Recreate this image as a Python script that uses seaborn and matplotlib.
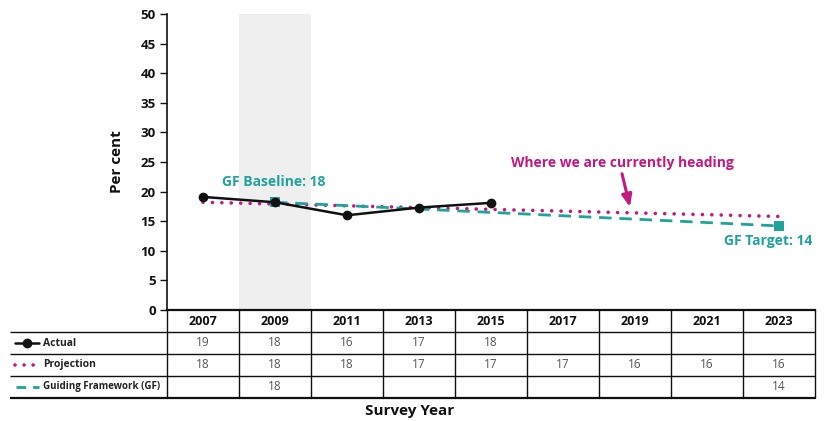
import matplotlib
matplotlib.use("Agg")
import matplotlib.pyplot as plt
import seaborn as sns
import pandas as pd
import numpy as np

# ---- data ----
years = ["2007", "2009", "2011", "2013", "2015", "2017", "2019", "2021", "2023"]
actual_years = ["2007", "2009", "2011", "2013", "2015"]
actual_vals = [19.1, 18.2, 16.0, 17.3, 18.1]
proj_years = ["2007", "2023"]
proj_vals = [18.2, 15.8]
gf_years = ["2009", "2023"]
gf_vals = [18.2, 14.2]
row_labels = ["Actual", "Projection", "Guiding Framework (GF)"]
table_actual = ["19", "18", "16", "17", "18", "", "", "", ""]
table_proj = ["18", "18", "18", "17", "17", "17", "16", "16", "16"]
table_gf = ["", "18", "", "", "", "", "", "", "14"]
shade_year = "2009"

BLACK = "#111111"
MAG = "#C4177F"
TEAL = "#1FA39B"

sns.set_theme(style="white")
plt.rcParams["font.family"] = ["Open Sans", "DejaVu Sans"]

W, H = 825, 421
fig = plt.figure(figsize=(W / 100, H / 100), dpi=100)

L, R, T, B = 167, 815, 14, 310
ax = fig.add_axes([L / W, 1 - B / H, (R - L) / W, (B - T) / H])

idx = {y: i for i, y in enumerate(years)}
df_a = pd.DataFrame({"x": [idx[y] for y in actual_years], "v": actual_vals})
df_p = pd.DataFrame({"x": [idx[y] for y in proj_years], "v": proj_vals})
df_g = pd.DataFrame({"x": [idx[y] for y in gf_years], "v": gf_vals})

si = idx[shade_year]
ax.axvspan(si - 0.5, si + 0.5, color="#EFEFEF", zorder=0, lw=0)

sns.lineplot(data=df_p, x="x", y="v", ax=ax, color=MAG, lw=2.6,
             linestyle=(0, (0.01, 2.6)), dash_capstyle="round", zorder=3)
sns.lineplot(data=df_g, x="x", y="v", ax=ax, color=TEAL, lw=2.0,
             linestyle=(0, (4.5, 2.8)), marker="s", markersize=6.5,
             markeredgewidth=0, zorder=4)
sns.lineplot(data=df_a, x="x", y="v", ax=ax, color=BLACK, lw=1.8,
             marker="o", markersize=7, markeredgewidth=0, zorder=5)

ax.set_xlim(-0.5, len(years) - 0.5)
ax.set_ylim(0, 50)
ax.set_yticks(range(0, 51, 5))
ax.set_xticks([])
ax.set_xlabel("")
ax.set_ylabel("Per cent", fontsize=11, fontweight="bold", color=BLACK, labelpad=12)
ax.tick_params(axis="y", direction="out", length=5, width=1, color=BLACK,
               labelsize=9.5, labelcolor=BLACK, pad=3, left=True)
for lab in ax.get_yticklabels():
    lab.set_fontweight("bold")
for s in ["top", "right"]:
    ax.spines[s].set_visible(False)
ax.spines["left"].set_color(BLACK)
ax.spines["left"].set_linewidth(1.2)
ax.spines["bottom"].set_color(BLACK)
ax.spines["bottom"].set_linewidth(1.6)
ax.patch.set_alpha(0)

# annotations
ax.text(0.27, 21.6, "GF Baseline: 18", color=TEAL, fontsize=10, fontweight="bold",
        ha="left", va="center")
ax.text(8.46, 11.7, "GF Target: 14", color=TEAL, fontsize=10, fontweight="bold",
        ha="right", va="center")
ax.text(5.82, 24.9, "Where we are currently heading", color=MAG, fontsize=10,
        fontweight="bold", ha="center", va="center")
ax.annotate("", xy=(5.93, 17.4), xytext=(5.82, 23.0),
            arrowprops=dict(arrowstyle="-|>,head_length=0.6,head_width=0.25",
                            color=MAG, lw=2.2, shrinkA=0, shrinkB=0))

# ---- table ----
tab = fig.add_axes([0, 0, 1, 1])
tab.set_xlim(0, W)
tab.set_ylim(H, 0)
tab.axis("off")
tab.patch.set_alpha(0)

colw = (R - L) / len(years)
row_y = [310, 332, 354, 376, 398]
lx0 = 10
for k, yy in enumerate(row_y[1:]):
    lw = 1.6 if k == len(row_y) - 2 else 1.0
    tab.plot([lx0, R], [yy, yy], color=BLACK, lw=lw, solid_capstyle="butt")
for i in range(len(years) + 1):
    xx = L + colw * i
    tab.plot([xx, xx], [row_y[0], row_y[-1]], color=BLACK, lw=1.0)

for i, y in enumerate(years):
    cx = L + colw * (i + 0.5)
    tab.text(cx, (row_y[0] + row_y[1]) / 2 + 0.5, y, ha="center", va="center",
             fontsize=9, fontweight="bold", color=BLACK)
for r, vals in enumerate([table_actual, table_proj, table_gf]):
    cy = (row_y[r + 1] + row_y[r + 2]) / 2
    for i, v in enumerate(vals):
        if v:
            tab.text(L + colw * (i + 0.5), cy, v, ha="center", va="center",
                     fontsize=8.5, color="#555555")

cy = [(row_y[k] + row_y[k + 1]) / 2 for k in range(1, 4)]
tab.plot([15, 39], [cy[0], cy[0]], color=BLACK, lw=1.8)
tab.plot([27], [cy[0]], marker="o", color=BLACK, markersize=6)
tab.plot([15, 39], [cy[1], cy[1]], color=MAG, lw=2.6,
         linestyle=(0, (0.01, 2.5)), dash_capstyle="round")
tab.plot([16, 39], [cy[2], cy[2]], color=TEAL, lw=2.0, linestyle=(0, (3.5, 2.5)))
for k, lab in enumerate(row_labels):
    tab.text(43, cy[k], lab, ha="left", va="center", fontsize=7 if k == 2 else 7.5,
             fontweight="bold", color="#222222")

tab.text(410, 411, "Survey Year", ha="center", va="center",
         fontsize=11, fontweight="bold", color=BLACK)

fig.savefig("out.png", dpi=100)
